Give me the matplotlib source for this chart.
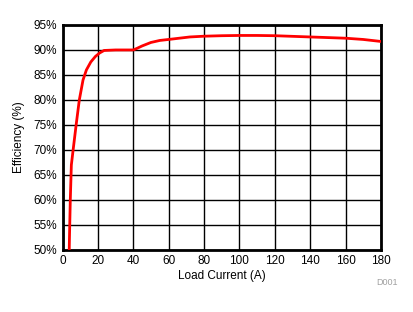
import matplotlib as mpl
mpl.use("Agg")
import matplotlib.pyplot as plt

# Efficiency vs load current
load_current = [3.8, 3.9, 4.4, 5.0, 6.0, 7.7, 9.5, 11.6, 13.5, 16.0, 18.6, 21.0, 23.5,
                30, 40, 42, 45, 50, 55, 60, 72, 80, 90, 100, 110, 120, 140, 160, 170, 180]
efficiency = [50.0, 52.0, 60.0, 67.0, 70.0, 75.0, 80.0, 84.0, 86.0, 87.6, 88.7, 89.4, 89.9,
              90.0, 90.0, 90.3, 90.8, 91.5, 91.9, 92.1, 92.6, 92.75, 92.85, 92.9, 92.9, 92.85, 92.6, 92.35, 92.1, 91.7]

x_ticks = list(range(0, 181, 20))
y_ticks = list(range(50, 96, 5))

plt.rcParams["font.family"] = ["Liberation Sans", "DejaVu Sans"]

fig = plt.figure(figsize=(4.14, 3.12), dpi=100)
ax = fig.add_axes([0.151, 0.199, 0.769, 0.721])
ax.plot(load_current, efficiency, color="red", linewidth=2, solid_joinstyle="round", zorder=3)

ax.set_xlim(0, 180)
ax.set_ylim(50, 95)
ax.set_xticks(x_ticks)
ax.set_yticks(y_ticks)
ax.set_yticklabels([f"{v}%" for v in y_ticks])
ax.tick_params(length=0, labelsize=8.5, pad=4)
ax.grid(True, color="black", linewidth=1)
for sp in ax.spines.values():
    sp.set_linewidth(2)

ax.set_xlabel("Load Current (A)", fontsize=8.5, labelpad=2)
ax.set_ylabel("Efficiency (%)", fontsize=8.5, labelpad=6)
fig.text(0.96, 0.085, "D001", fontsize=6.5, color="#a0a0a0", ha="right")

fig.savefig("out.png", dpi=100)
